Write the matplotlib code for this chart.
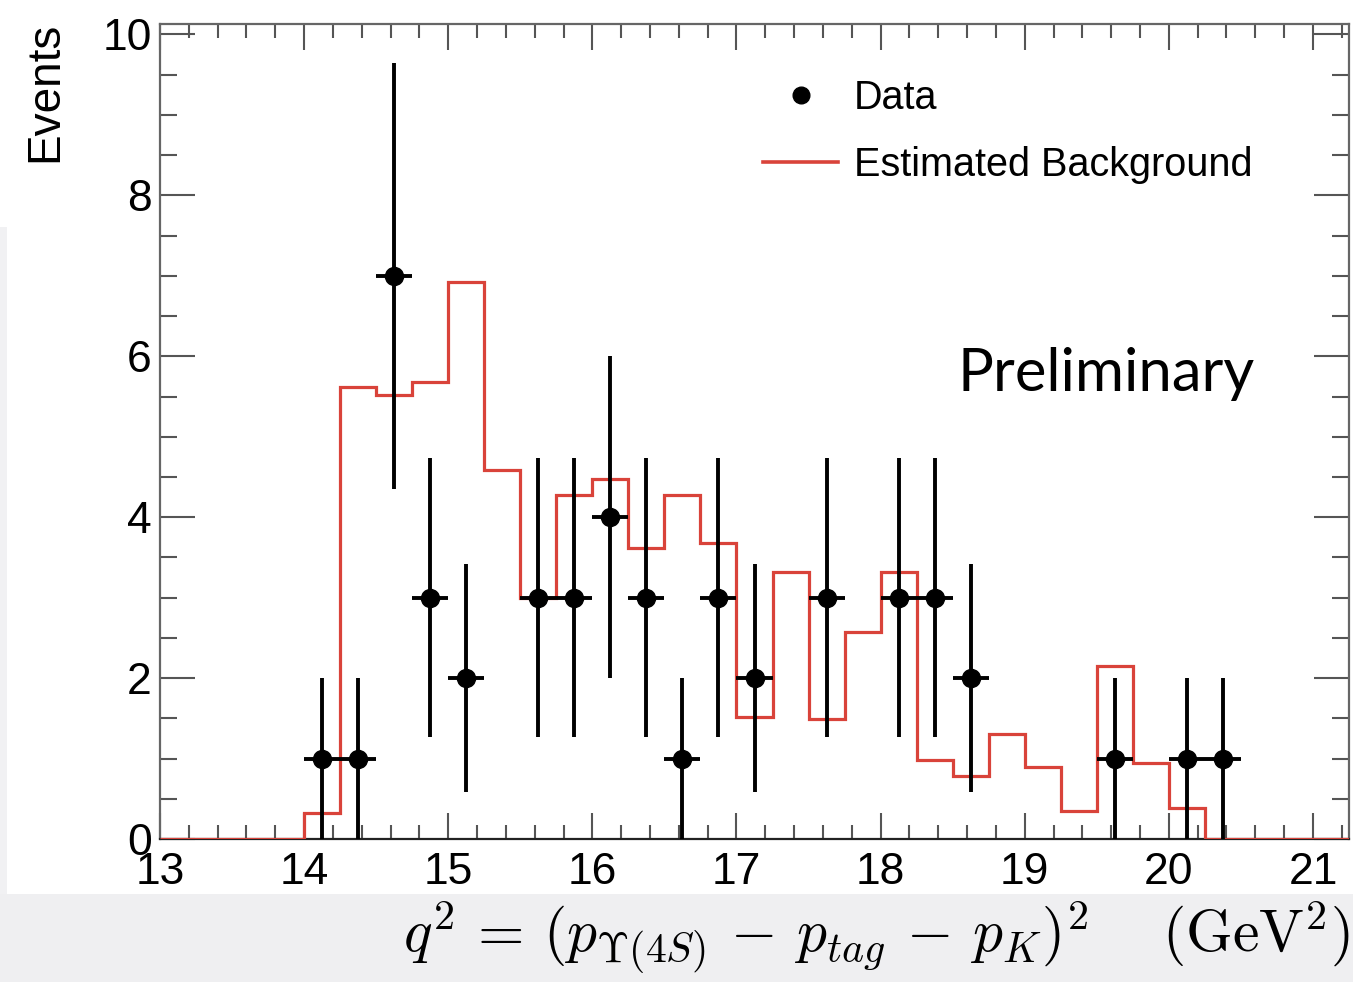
import numpy as np
import matplotlib
matplotlib.use("Agg")
import matplotlib.pyplot as plt
from matplotlib.patches import Rectangle
from matplotlib.lines import Line2D
from matplotlib.ticker import MultipleLocator

# ---- data ----
data_x = [14.125, 14.375, 14.625, 14.875, 15.125, 15.625, 15.875, 16.125, 16.375,
          16.625, 16.875, 17.125, 17.625, 18.125, 18.375, 18.625, 19.625, 20.125, 20.375]
data_n = [1, 1, 7, 3, 2, 3, 3, 4, 3, 1, 3, 2, 3, 3, 3, 2, 1, 1, 1]
bin_width = 0.25

bkg_edges = np.arange(13.0, 21.25 + 1e-9, 0.25)
bkg_vals = [0, 0, 0, 0,
            0.32, 5.62, 5.52, 5.68, 6.92, 4.59, 3.00, 4.28, 4.47, 3.62, 4.27, 3.68,
            1.52, 3.32, 1.49, 2.57, 3.32, 0.98, 0.78, 1.31, 0.90, 0.35, 2.15, 0.95,
            0.39, 0, 0, 0, 0]

xticks = [13, 14, 15, 16, 17, 18, 19, 20, 21]
yticks = [0, 2, 4, 6, 8, 10]

red = '#d9433a'

W, H = 1353, 982
fig = plt.figure(figsize=(W / 100, H / 100), dpi=100)
fig.patch.set_facecolor('white')

# background bands
fig.patches.append(Rectangle((0, 0), 1, 88 / H, transform=fig.transFigure,
                             facecolor='#efeff1', edgecolor='none', zorder=0))
fig.patches.append(Rectangle((0, 88 / H), 7 / W, (894 - 227) / H, transform=fig.transFigure,
                             facecolor='#f1f1f3', edgecolor='none', zorder=0))

ax = fig.add_axes([160 / W, 1 - 839 / H, (1349 - 160) / W, (839 - 24) / H])
ax.set_xlim(13, 21.25)
ax.set_ylim(0, 10.13)

# background histogram
ax.stairs(bkg_vals, bkg_edges, color=red, linewidth=2.3, zorder=3,
          label='Estimated Background')

# data points
yerr = np.sqrt(np.array(data_n, dtype=float))
ax.errorbar(data_x, data_n, yerr=yerr, xerr=bin_width / 2, fmt='o', color='black',
            markersize=13, elinewidth=2.8, capsize=0, zorder=4, label='Data')

# ticks
ax.set_xticks(xticks)
ax.set_yticks(yticks)
ax.xaxis.set_minor_locator(MultipleLocator(0.2))
ax.yaxis.set_minor_locator(MultipleLocator(0.5))
ax.tick_params(which='both', direction='in', top=True, right=True, color='#555555', width=1.5)
ax.tick_params(axis='x', which='major', length=19, pad=9, labelsize=32)
ax.tick_params(axis='x', which='minor', length=10)
ax.tick_params(axis='y', which='major', length=25, pad=6, labelsize=32)
ax.tick_params(axis='y', which='minor', length=12)
for lab in ax.get_xticklabels() + ax.get_yticklabels():
    lab.set_fontfamily('Liberation Sans')
for sp in ax.spines.values():
    sp.set_color('#666666')
    sp.set_linewidth(1.6)
ax.spines['bottom'].set_color('#222222')

# legend
handles = [Line2D([], [], marker='o', color='black', linestyle='none', markersize=12),
           Line2D([], [], color=red, linewidth=2.6)]
leg = ax.legend(handles, ['Data', 'Estimated Background'], loc='upper left',
                bbox_to_anchor=(763 / W, 1 - 79 / H), bbox_transform=fig.transFigure,
                frameon=False, prop={'family': 'Liberation Sans', 'size': 28.5},
                handlelength=1.9, handletextpad=0.4, labelspacing=0.72,
                borderpad=0, borderaxespad=0)

# Preliminary
fig.text(958 / W, 1 - 391 / H, 'Preliminary', fontsize=43, family='Lato',
         ha='left', va='baseline')

# axis labels
fig.text(45 / W, 1 - 22 / H, 'Events', rotation=90, fontsize=33,
         family='Liberation Sans', ha='center', va='top')
plt.rcParams['mathtext.fontset'] = 'cm'
fig.text(1350 / W, 1 - 952 / H,
         r'$q^2 \,=\, (p_{\Upsilon(4S)} \,-\, p_{tag} \,-\, p_K)^2 \quad\ (\mathrm{GeV}^2)$',
         fontsize=43, ha='right', va='baseline')

fig.savefig('out.png', dpi=100, facecolor=fig.get_facecolor())
